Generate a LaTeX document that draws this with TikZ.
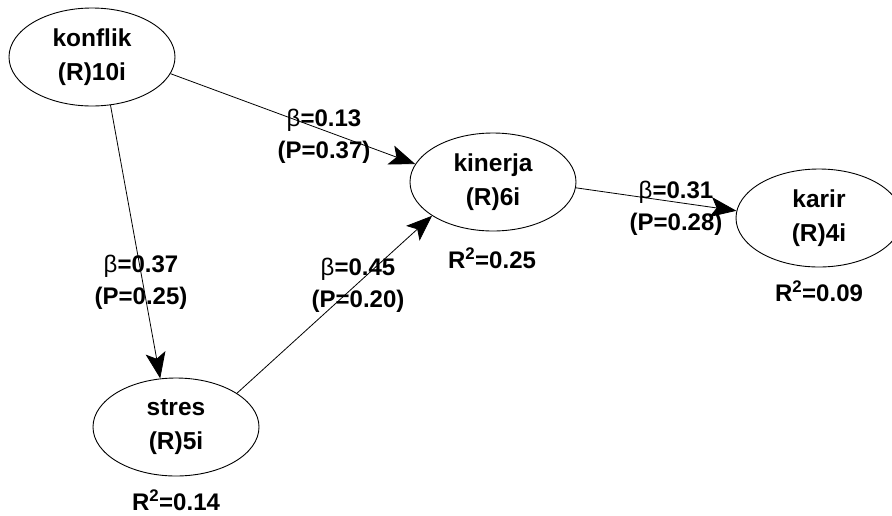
\documentclass[tikz,border=0pt]{standalone}
\usepackage{fontspec}
\setmainfont{Liberation Sans}
\usetikzlibrary{arrows.meta,shapes.geometric}
\begin{document}
\begin{tikzpicture}[x=1pt,y=-1pt,
  lv/.style={ellipse, draw, line width=0.9pt, inner sep=0pt,
    minimum width=166pt, minimum height=98pt, align=center,
    font=\fontsize{24.5}{34}\selectfont\bfseries},
  lbl/.style={inner sep=0pt, align=center,
    font=\fontsize{24}{32}\selectfont\bfseries},
  path/.style={line width=0.8pt, -{Stealth[length=26pt,width=20pt,inset=6pt]}}]
\useasboundingbox[fill=white] (0,0) rectangle (892,515);
\node[lv] (konflik) at (92,57) {konflik\\(R)10i};
\node[lv] (kinerja) at (493,182) {kinerja\\(R)6i};
\node[lv] (karir) at (819,218) {karir\\(R)4i};
\node[lv] (stres) at (176,427) {stres\\(R)5i};

\draw[path] (konflik.-12) -- (kinerja.167);
\draw[path] (konflik.-69) -- (stres.108);
\draw[path] (stres.29) -- (kinerja.-151);
\draw[path] (kinerja.-4) -- (karir.175);

\node[lbl] (b1) at (324,136) {{\mdseries β}=0.13\\(P=0.37)};
\node[lbl] (b2) at (141,282) {{\mdseries β}=0.37\\(P=0.25)};
\node[lbl] (b3) at (358,285) {{\mdseries β}=0.45\\(P=0.20)};
\node[lbl] (b4) at (676,208) {{\mdseries β}=0.31\\(P=0.28)};
\node[lbl] (r1) at (492,258) {R\textsuperscript{2}=0.25};
\node[lbl] (r2) at (819,291) {R\textsuperscript{2}=0.09};
\node[lbl] (r3) at (176,500) {R\textsuperscript{2}=0.14};
\end{tikzpicture}
\end{document}
